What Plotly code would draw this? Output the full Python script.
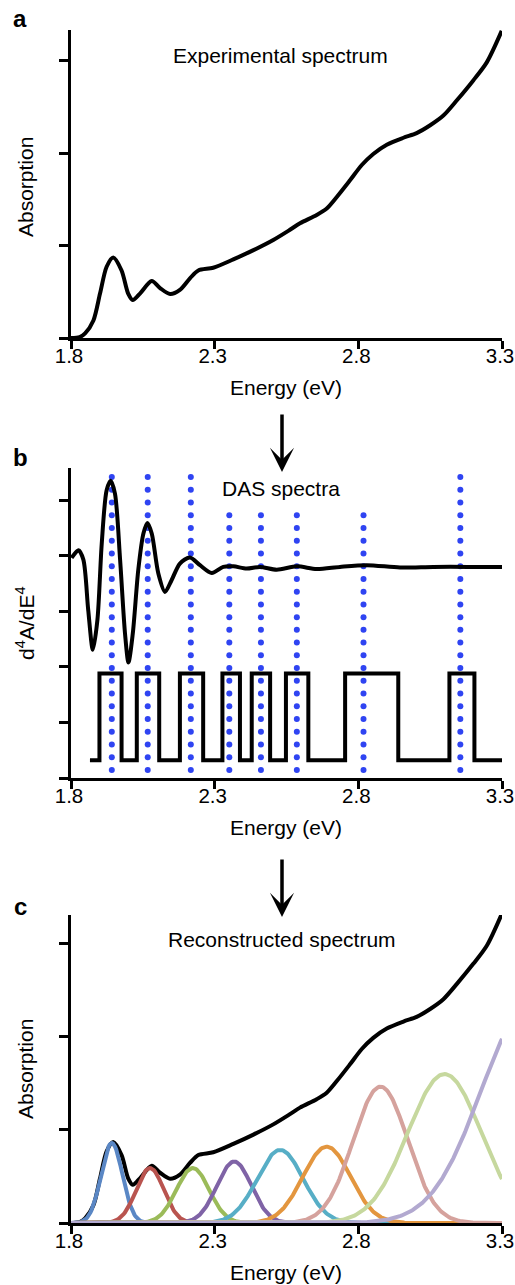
import numpy as np
import plotly.graph_objects as go

# ---------------- data ----------------
energy_ticks = [1.8, 2.3, 2.8, 3.3]
energy_tick_text = ["1.8", "2.3", "2.8", "3.3"]

# experimental absorption spectrum (arbitrary units = tick spacing)
exp_energy = [1.800, 1.830, 1.849, 1.878, 1.901, 1.924, 1.947, 1.976, 1.999, 2.015,
              2.040, 2.081, 2.110, 2.145, 2.179, 2.214, 2.243, 2.295, 2.365, 2.435,
              2.504, 2.562, 2.597, 2.655, 2.690, 2.725, 2.771, 2.812, 2.852, 2.899,
              2.957, 3.003, 3.050, 3.096, 3.143, 3.200, 3.247, 3.299]
exp_absorption = [0.00, 0.01, 0.05, 0.19, 0.48, 0.77, 0.87, 0.73, 0.48, 0.41,
                  0.48, 0.615, 0.54, 0.475, 0.52, 0.645, 0.73, 0.76, 0.85, 0.95,
                  1.06, 1.17, 1.24, 1.33, 1.40, 1.525, 1.705, 1.87, 1.99, 2.09,
                  2.165, 2.215, 2.30, 2.405, 2.57, 2.785, 2.98, 3.32]

# fourth derivative (DAS) spectrum
das_energy = [1.802, 1.826, 1.843, 1.860, 1.876, 1.892, 1.907, 1.924, 1.938, 1.953,
              1.971, 1.988, 2.000, 2.015, 2.034, 2.052, 2.066, 2.081, 2.104, 2.127,
              2.150, 2.179, 2.214, 2.249, 2.290, 2.330, 2.365, 2.411, 2.458, 2.516,
              2.586, 2.655, 2.736, 2.829, 2.945, 3.061, 3.180, 3.300]
das_value = [3.96, 4.10, 3.93, 3.02, 2.31, 2.85, 4.22, 5.18, 5.35, 5.12,
             3.92, 2.60, 2.08, 2.60, 3.74, 4.40, 4.59, 4.40, 3.68, 3.35,
             3.56, 3.86, 3.97, 3.83, 3.69, 3.80, 3.81, 3.77, 3.80, 3.75,
             3.81, 3.76, 3.80, 3.83, 3.79, 3.80, 3.80, 3.80]

# window (square wave) edges and levels
window_edges = [1.866, 1.899, 1.976, 2.029, 2.107, 2.179, 2.260, 2.327, 2.388,
                2.429, 2.493, 2.548, 2.626, 2.754, 2.939, 3.117, 3.204, 3.300]
window_levels = [0.32, 1.88, 0.32, 1.88, 0.32, 1.88, 0.32, 1.88, 0.32,
                 1.88, 0.32, 1.88, 0.32, 1.88, 0.32, 1.88, 0.32, 0.32]

# identified transition energies (blue dotted markers)
peak_energy = [1.942, 2.067, 2.217, 2.351, 2.461, 2.586, 2.818, 3.155]
peak_tall = [True, True, True, False, False, False, False, True]

# Gaussian components of reconstructed spectrum
comp_center = [1.942, 2.075, 2.224, 2.368, 2.528, 2.690, 2.877, 3.100, 3.400]
comp_height = [0.86, 0.59, 0.59, 0.66, 0.785, 0.82, 1.465, 1.60, 2.34]
comp_sigma = [0.037, 0.048, 0.057, 0.060, 0.080, 0.083, 0.095, 0.128, 0.173]
comp_color = ["#5a87c5", "#b9544f", "#9bbb59", "#7f63a6", "#57aec6",
              "#e3963f", "#d5a29d", "#c6d89e", "#b2a9d0"]

# ---------------- layout geometry ----------------
W, H = 515, 1285
FONT = "Liberation Sans, Arial, Helvetica, sans-serif"
x_dom = [71 / W, 502 / W]
ya_dom = [1 - 338 / H, 1 - 30 / H]
yb_dom = [1 - 778 / H, 1 - 468 / H]
yc_dom = [1 - 1223 / H, 1 - 915 / H]

fig = go.Figure()
BLACK_W = 4

# panel a
fig.add_trace(go.Scatter(x=exp_energy, y=exp_absorption, mode="lines",
                         line=dict(color="black", width=BLACK_W, shape="spline", smoothing=0.8),
                         xaxis="x", yaxis="y", hoverinfo="skip"))

# panel b: dotted markers
dot_step = 0.2293
dot_bottom = 0.144
for e, tall in zip(peak_energy, peak_tall):
    n = 24 if tall else 21
    ys = dot_bottom + dot_step * np.arange(n)
    fig.add_trace(go.Scatter(x=[e] * n, y=ys, mode="markers",
                             marker=dict(color="#2f44f2", size=6, line=dict(width=0)),
                             xaxis="x2", yaxis="y2", hoverinfo="skip", cliponaxis=False))
fig.add_trace(go.Scatter(x=das_energy, y=das_value, mode="lines",
                         line=dict(color="black", width=BLACK_W, shape="spline", smoothing=0.8),
                         xaxis="x2", yaxis="y2", hoverinfo="skip"))
fig.add_trace(go.Scatter(x=window_edges, y=window_levels, mode="lines",
                         line=dict(color="black", width=BLACK_W, shape="hv"),
                         xaxis="x2", yaxis="y2", hoverinfo="skip"))

# panel c
fig.add_trace(go.Scatter(x=exp_energy, y=exp_absorption, mode="lines",
                         line=dict(color="black", width=BLACK_W, shape="spline", smoothing=0.8),
                         xaxis="x3", yaxis="y3", hoverinfo="skip"))
xs = np.linspace(1.8, 3.3, 401)
for c, h, s, col in zip(comp_center, comp_height, comp_sigma, comp_color):
    ys = h * np.exp(-0.5 * ((xs - c) / s) ** 2)
    fig.add_trace(go.Scatter(x=xs, y=ys, mode="lines",
                             line=dict(color=col, width=4),
                             xaxis="x3", yaxis="y3", hoverinfo="skip"))

xaxis_common = dict(range=[1.8, 3.3], tickvals=energy_ticks, ticktext=energy_tick_text,
                    ticks="outside", ticklen=8, tickwidth=3, tickcolor="black",
                    showline=True, linewidth=3, linecolor="black",
                    showgrid=False, zeroline=False, domain=x_dom, automargin=False,
                    ticklabeloverflow="allow", ticklabelstandoff=-11, ticklabelshift=-2,
                    tickfont=dict(family=FONT, size=20.5, color="black"), fixedrange=True)
yaxis_common = dict(ticks="outside", ticklen=9, tickwidth=3, tickcolor="black",
                    showline=True, linewidth=3, linecolor="black", automargin=False,
                    showgrid=False, zeroline=False, showticklabels=False, fixedrange=True)

fig.update_layout(
    template="none",
    width=W, height=H, margin=dict(l=0, r=0, t=0, b=0, pad=0),
    paper_bgcolor="white", plot_bgcolor="white", showlegend=False,
    xaxis=dict(**xaxis_common, anchor="y"),
    xaxis2=dict(**xaxis_common, anchor="y2"),
    xaxis3=dict(**xaxis_common, anchor="y3"),
    yaxis=dict(**yaxis_common, domain=ya_dom, range=[0, 3.33], tickvals=[0, 1, 2, 3], anchor="x"),
    yaxis2=dict(**yaxis_common, domain=yb_dom, range=[0, 5.58], tickvals=[0, 1, 2, 3, 4, 5], anchor="x2"),
    yaxis3=dict(**yaxis_common, domain=yc_dom, range=[0, 3.31], tickvals=[0, 1, 2, 3], anchor="x3"),
)

def txt(text, px, py, size=21, bold=False, angle=0):
    fig.add_annotation(text=f"<b>{text}</b>" if bold else text,
                       x=px / W, y=1 - py / H, xref="paper", yref="paper",
                       xanchor="center", yanchor="middle", showarrow=False,
                       textangle=angle, font=dict(family=FONT, size=size, color="black"))

# panel labels
txt("a", 20, 19, size=24, bold=True)
txt("b", 20, 457, size=24, bold=True)
txt("c", 20, 906, size=24, bold=True)

# panel titles
txt("Experimental spectrum", 280, 56)
txt("DAS spectra", 281, 488)
txt("Reconstructed spectrum", 282, 939)

# axis titles
txt("Energy (eV)", 286, 387)
txt("Energy (eV)", 286, 827)
txt("Energy (eV)", 286, 1272)
txt("Absorption", 25, 187, angle=-90)
txt("d<sup>4</sup>A/dE<sup>4</sup>", 25, 623, angle=-90)
txt("Absorption", 25, 1069, angle=-90)

# arrows
for tip, tail in [(472, 413), (917, 858)]:
    fig.add_annotation(x=282 / W, y=1 - tip / H, xref="paper", yref="paper",
                       ax=0, ay=-(tip - tail), axref="pixel", ayref="pixel",
                       text="", showarrow=True, arrowhead=3, arrowsize=1.15,
                       arrowwidth=3.5, arrowcolor="black", standoff=0, startstandoff=0)

fig.write_html("out.html")
